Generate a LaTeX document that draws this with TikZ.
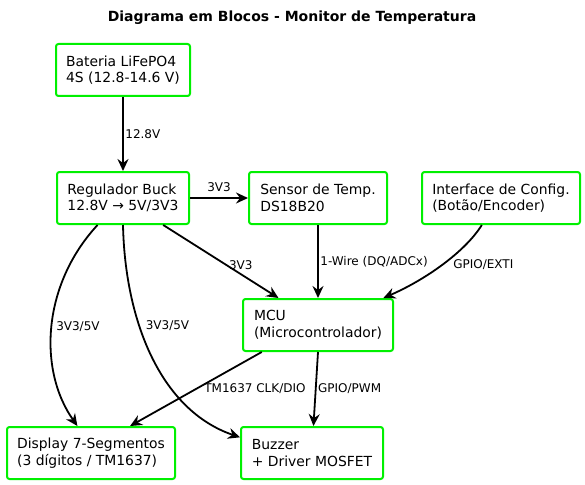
\documentclass[tikz,border=0pt]{standalone}
\usepackage{fontspec}
\setmainfont{DejaVu Sans}
\usetikzlibrary{arrows.meta,calc}
\definecolor{boxgreen}{RGB}{0,240,0}
\begin{document}
\begin{tikzpicture}[x=1pt,y=-1pt,
  blk/.style={draw=boxgreen, line width=2pt, rounded corners=2.5pt, fill=white,
    inner xsep=8pt, inner ysep=0pt, minimum height=52pt, align=left,
    font=\fontsize{13.9}{16.7}\selectfont},
  conn/.style={draw=black, line width=1.8pt,
    -{Stealth[length=12pt,width=11pt,inset=4pt]}},
  lbl/.style={font=\fontsize{12}{14}\selectfont, inner sep=1.5pt, text=black}]
\useasboundingbox (0,0) rectangle (585,484);
\node[font=\bfseries\fontsize{14}{16}\selectfont] (title) at (292,18) {Diagrama em Blocos - Monitor de Temperatura};

\node[blk, minimum width=134pt] (bat) at (123,70) {Bateria LiFePO4\\4S (12.8-14.6 V)};
\node[blk, minimum width=132pt] (reg) at (123,198) {Regulador Buck\\12.8V → 5V/3V3};
\node[blk, minimum width=138pt] (sen) at (318,198) {Sensor de Temp.\\DS18B20};
\node[blk, minimum width=158pt] (ifc) at (501,198) {Interface de Config.\\(Botão/Encoder)};
\node[blk, minimum width=150pt] (mcu) at (318,325) {MCU\\(Microcontrolador)};
\node[blk, minimum width=168pt] (dsp) at (91,453) {Display 7-Segmentos\\(3 dígitos / TM1637)};
\node[blk, minimum width=142pt] (buz) at (312,453) {Buzzer\\+ Driver MOSFET};

% straight connectors
\draw[conn] (bat.south) -- node[lbl, anchor=west] {12.8V} (reg.north);
\draw[conn] (reg.east) -- node[lbl, anchor=south, yshift=4pt] {3V3} (sen.west);
\draw[conn] ($(reg.south west)!0.80!(reg.south east)$) -- node[lbl, anchor=west, pos=0.55] {3V3} ($(mcu.north west)!0.24!(mcu.north east)$);
\draw[conn] (sen.south) -- node[lbl, anchor=west] {1-Wire (DQ/ADCx)} (mcu.north);
\draw[conn] ($(mcu.south west)!0.13!(mcu.south east)$) -- node[lbl, anchor=west, xshift=6pt] {TM1637 CLK/DIO} ($(dsp.north west)!0.73!(dsp.north east)$);
\draw[conn] (mcu.south) -- node[lbl, anchor=west] {GPIO/PWM} ($(buz.north west)!0.51!(buz.north east)$);

% curved connectors
\draw[conn] ($(reg.south west)!0.31!(reg.south east)$) .. controls (42,285) and (38,370) .. node[lbl, anchor=west, pos=0.5, xshift=2pt] {3V3/5V} ($(dsp.north west)!0.42!(dsp.north east)$);
\draw[conn] (reg.south) .. controls (125,320) and (160,410) .. node[lbl, anchor=west, pos=0.37, xshift=4pt] {3V3/5V} ($(buz.north west)!0.21!(buz.south west)$);
\draw[conn] ($(ifc.south west)!0.38!(ifc.south east)$) .. controls (465,252) and (425,280) .. node[lbl, anchor=west, pos=0.5, xshift=9pt] {GPIO/EXTI} ($(mcu.north west)!0.93!(mcu.north east)$);
\end{tikzpicture}
\end{document}
